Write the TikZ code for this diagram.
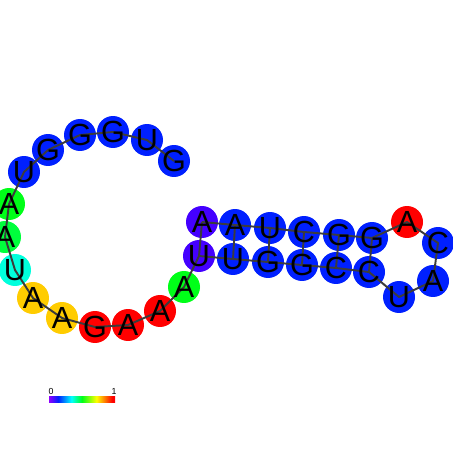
\documentclass[tikz,border=0pt]{standalone}
\usepackage{fontspec}
\setmainfont{Liberation Sans}
\usetikzlibrary{positioning}
\definecolor{ntblue}{RGB}{0,32,255}
\definecolor{ntpurple}{RGB}{68,0,255}
\definecolor{ntred}{RGB}{255,0,0}
\definecolor{ntamber}{RGB}{255,204,0}
\definecolor{ntgreen}{RGB}{0,255,24}
\definecolor{ntgreenb}{RGB}{0,255,60}
\definecolor{ntcyan}{RGB}{0,255,220}
\definecolor{bbgray}{RGB}{60,60,60}
\pgfdeclarehorizontalshading{rainbowbar}{100bp}{%
  color(0bp)=(ntpurple!60!magenta); color(25bp)=(ntpurple!60!magenta);
  color(32bp)=(ntblue); color(42bp)=(cyan); color(50bp)=(ntgreen);
  color(61bp)=(yellow); color(67bp)=(orange); color(73bp)=(ntred);
  color(100bp)=(ntred)}

\begin{document}
\begin{tikzpicture}[
    x=0.02cm, y=-0.02cm,
    base/.style={
      circle,
      minimum size=0.64cm,
      inner sep=0pt
    },
    letter/.style={font=\fontsize{17.4}{17.4}\selectfont, inner sep=0pt},
    backbone/.style={draw=bbgray, line width=1.1pt, line join=round},
    tick/.style={font=\fontsize{5}{5}\selectfont, inner sep=1pt, above}
  ]
    \useasboundingbox[fill=white] (0,0) rectangle (452,452);

    % 5' arm and loop
    \node[base, fill=ntblue] (n1) at (174,161) {};
    \node[base, fill=ntblue] (n2) at (147,140) {};
    \node[base, fill=ntblue] (n3) at (113,132) {};
    \node[base, fill=ntblue] (n4) at (80,135) {};
    \node[base, fill=ntblue] (n5) at (48,150) {};
    \node[base, fill=ntblue] (n6) at (24,172) {};
    \node[base, fill=ntgreen] (n7) at (9,204) {};
    \node[base, fill=ntgreenb] (n8) at (5,237) {};
    \node[base, fill=ntcyan] (n9) at (15,270) {};
    \node[base, fill=ntamber] (n10) at (33,298) {};
    \node[base, fill=ntamber] (n11) at (62,318) {};
    \node[base, fill=ntred] (n12) at (95,327) {};
    \node[base, fill=ntred] (n13) at (128,325) {};
    \node[base, fill=ntred] (n14) at (160,311) {};
    \node[base, fill=ntgreen] (n15) at (184,287) {};
    % stem, lower strand
    \node[base, fill=ntpurple] (n16) at (199,256) {};
    \node[base, fill=ntblue] (n17) at (233,259) {};
    \node[base, fill=ntblue] (n18) at (268,262) {};
    \node[base, fill=ntblue] (n19) at (302,265) {};
    \node[base, fill=ntblue] (n20) at (336,268) {};
    \node[base, fill=ntblue] (n21) at (369,272) {};
    % hairpin
    \node[base, fill=ntblue] (n22) at (399,297) {};
    \node[base, fill=ntblue] (n23) at (433,281) {};
    \node[base, fill=ntblue] (n24) at (438,243) {};
    \node[base, fill=ntred] (n25) at (407,222) {};
    % stem, upper strand
    \node[base, fill=ntblue] (n26) at (372,238) {};
    \node[base, fill=ntblue] (n27) at (339,235) {};
    \node[base, fill=ntblue] (n28) at (304,232) {};
    \node[base, fill=ntblue] (n29) at (270,228) {};
    \node[base, fill=ntblue] (n30) at (235,225) {};
    \node[base, fill=ntpurple] (n31) at (202,222) {};

    % backbone
    \draw[backbone] (n1.center) \foreach \i in {2,...,31} { -- (n\i.center) };
    % base pairs
    \foreach \a/\b in {16/31, 17/30, 18/29, 19/28, 20/27, 21/26}
      \draw[backbone] (n\a.center) -- (n\b.center);

    % letters
    \foreach \i/\l in {1/G, 2/U, 3/G, 4/G, 5/G, 6/U, 7/A, 8/A, 9/U, 10/A,
                       11/A, 12/G, 13/A, 14/A, 15/A, 16/U, 17/U, 18/G, 19/G, 20/C,
                       21/C, 22/U, 23/A, 24/C, 25/A, 26/G, 27/G, 28/C, 29/U, 30/A, 31/A}
      \node[letter] at (n\i) {\l};

    % colour scale
    \shade[shading=rainbowbar] (49,396.5) rectangle (115,402.5);
    \coordinate (barlo) at (51,396.5);
    \coordinate (barhi) at (114,396.5);
    \node[tick] at (barlo) {0};
    \node[tick] at (barhi) {1};
  \end{tikzpicture}
\end{document}
